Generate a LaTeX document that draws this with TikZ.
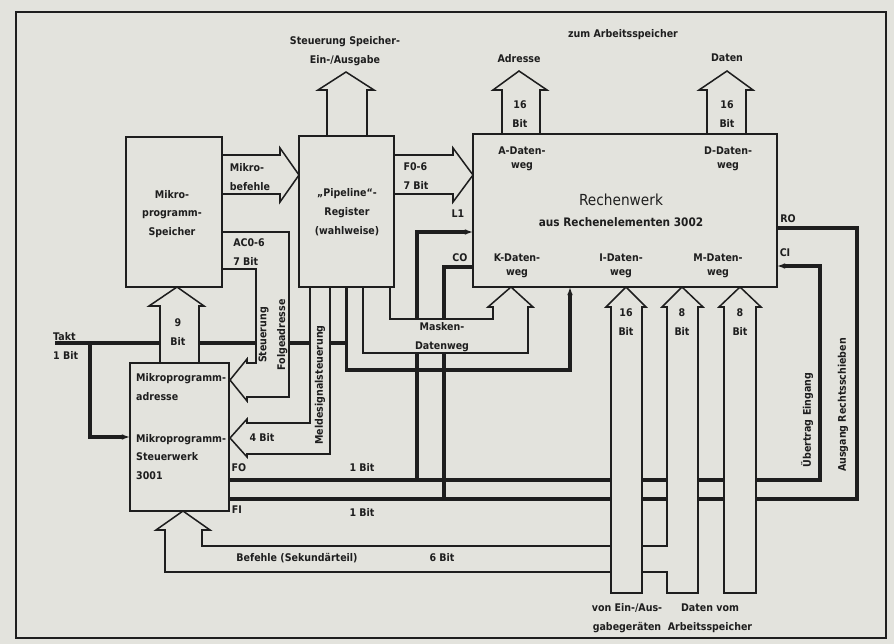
\documentclass[tikz,border=0pt]{standalone}
\usepackage{fontspec}
\setmainfont{DejaVu Sans Condensed}
\definecolor{paper}{HTML}{E3E3DD}
\definecolor{ink}{HTML}{1E1E1E}
\usetikzlibrary{arrows.meta}

\begin{document}
\begin{tikzpicture}[x=0.03cm, y=-0.03cm,
  blk/.style={draw=ink, line width=1.8pt, fill=paper, inner sep=0pt},
  bus/.style={draw=ink, fill=paper, line width=1.3pt, line join=miter},
  sig/.style={draw=ink, line width=2.6pt},
  tip/.style={-{Latex[length=7pt,width=5pt]}},
  lbl/.style={font=\fontsize{9}{16}\selectfont\bfseries, text=ink, align=center, inner sep=0pt},
  sml/.style={font=\fontsize{9}{12}\selectfont\bfseries, text=ink, align=center, inner sep=0pt},
]
\fill[paper] (0,0) rectangle (894,644);
\useasboundingbox (0,0) rectangle (894,644);
\draw[ink, line width=2pt] (16,12) rectangle (886,638);

\coordinate (fo) at (229,480);
\coordinate (fi) at (229,499);
\coordinate (ci) at (777,266);
\coordinate (ro) at (777,228);
\coordinate (li) at (473,232);
\coordinate (co) at (473,267);
\coordinate (clk) at (570,287);

\draw[sig] (55,343) -- (346.5,343);
\draw[sig, tip] (90,343) |- (130,437);
\draw[sig, tip] (346.5,287) |- (570,370) -- (clk);
\draw[sig, tip] (fo) -- (820,480) |- (ci);
\draw[sig] (fi) -- (857,499) |- (ro);
\draw[sig, tip] (417,480) |- (li);
\draw[sig] (co) -| (444,499);

\filldraw[bus] (363,287) -- (363,353) -- (528,353) -- (528,307) -- (533,307) -- (511,287)
  -- (488,307) -- (493,307) -- (493,319) -- (390,319) -- (390,287);
\filldraw[bus] (222,232) -- (289,232) -- (289,397) -- (247,397) -- (247,401) -- (230,380)
  -- (247,359) -- (247,363) -- (256,363) -- (256,269) -- (222,269);
\filldraw[bus] (310,287) -- (310,423) -- (247,423) -- (247,419) -- (230,438)
  -- (247,457) -- (247,454) -- (330,454) -- (330,287);
\filldraw[bus] (160,363) -- (160,306) -- (149,306) -- (177,287) -- (204,306) -- (199,306) -- (199,363);
\filldraw[bus] (667,593) -- (667,572) -- (165,572) -- (165,530) -- (156,530) -- (183,511)
  -- (210,530) -- (202,530) -- (202,546) -- (667,546) -- (667,307) -- (662,307) -- (682,287)
  -- (703,307) -- (698,307) -- (698,593) -- cycle;
\filldraw[bus] (611,593) -- (611,307) -- (606,307) -- (626,287) -- (646,307) -- (642,307) -- (642,593) -- cycle;
\filldraw[bus] (724,593) -- (724,307) -- (719,307) -- (740,287) -- (761,307) -- (756,307) -- (756,593) -- cycle;
\filldraw[bus] (327,136) -- (327,90) -- (318,90) -- (346,72) -- (374,90) -- (367,90) -- (367,136);
\filldraw[bus] (502,134) -- (502,90) -- (493,90) -- (519,71) -- (547,90) -- (540,90) -- (540,134);
\filldraw[bus] (707,134) -- (707,90) -- (699,90) -- (727,71) -- (753,90) -- (746,90) -- (746,134);
\filldraw[bus] (222,155) -- (280,155) -- (280,148) -- (299,175) -- (280,202) -- (280,194) -- (222,194);
\filldraw[bus] (394,155) -- (453,155) -- (453,148) -- (473,175) -- (453,202) -- (453,194) -- (394,194);

\node[blk, minimum width=2.88cm, minimum height=4.5cm] (spk) at (174,212) {};
\node[blk, minimum width=2.85cm, minimum height=4.53cm] (pip) at (346.5,211.5) {};
\node[blk, minimum width=9.12cm, minimum height=4.59cm] (rw) at (625,210.5) {};
\node[blk, minimum width=2.97cm, minimum height=4.44cm] (sw) at (179.5,437) {};

\node[lbl] (spkt) at (172,214) {Mikro-\\programm-\\Speicher};
\node[lbl] (pipt) at (347,212) {„Pipeline“-\\Register\\(wahlweise)};
\node[text=ink, font=\fontsize{13}{15}\selectfont] (rwt) at (621,200) {Rechenwerk};
\node[sml, font=\fontsize{10}{12}\selectfont\bfseries] (rwu) at (621,222) {aus Rechenelementen 3002};
\node[sml] (adw) at (522,159) {A-Daten-\\weg};
\node[sml] (ddw) at (728,159) {D-Daten-\\weg};
\node[sml] (kdw) at (517,266) {K-Daten-\\weg};
\node[sml] (idw) at (621,266) {I-Daten-\\weg};
\node[sml] (mdw) at (718,266) {M-Daten-\\weg};
\node[lbl, align=left, anchor=west] (swa) at (136,387) {Mikroprogramm-\\adresse};
\node[lbl, align=left, anchor=west] (sws) at (136,457) {Mikroprogramm-\\Steuerwerk\\3001};

\node[lbl] (sea) at (345,51) {Steuerung Speicher-\\Ein-/Ausgabe};
\node[lbl] (zas) at (623,35) {zum Arbeitsspeicher};
\node[lbl] (adr) at (519,59) {Adresse};
\node[lbl] (dat) at (727,58) {Daten};
\node[lbl] (ab) at (520,114) {16\\Bit};
\node[lbl] (db) at (727,114) {16\\Bit};
\node[lbl, align=left] (mbf) at (250,177) {Mikro-\\befehle};
\node[lbl, align=left] (fb) at (416,176) {F0-6\\7 Bit};
\node[lbl, align=left] (acb) at (249,252) {AC0-6\\7 Bit};
\node[lbl] (nb) at (178,332) {9\\Bit};
\node[lbl, align=left, anchor=west] (takt) at (53,346) {Takt\\1 Bit};
\node[lbl] (vb) at (262,437) {4 Bit};
\node[lbl] (fol) at (239,468) {FO};
\node[lbl] (fil) at (237,510) {FI};
\node[lbl] (fob) at (362,467) {1 Bit};
\node[lbl] (fib) at (362,512) {1 Bit};
\node[lbl] (bef) at (297,558) {Befehle (Sekundärteil)};
\node[lbl] (sb) at (442,558) {6 Bit};
\node[lbl] (mdl) at (442,337) {Masken-\\Datenweg};
\node[lbl] (lil) at (458,214) {L1};
\node[lbl] (col) at (460,258) {CO};
\node[lbl] (rol) at (788,219) {RO};
\node[lbl] (cil) at (785,253) {CI};
\node[lbl] (b1) at (626,322) {16\\Bit};
\node[lbl] (b2) at (682,322) {8\\Bit};
\node[lbl] (b3) at (740,322) {8\\Bit};
\node[lbl] (vea) at (627,618) {von Ein-/Aus-\\gabegeräten};
\node[lbl] (dva) at (710,618) {Daten vom\\Arbeitsspeicher};
\node[lbl, rotate=90] (sfa) at (273,335) {Steuerung\\Folgeadresse};
\node[lbl, rotate=90] (mss) at (320,385) {Meldesignalsteuerung};
\node[lbl, rotate=90] (ueb) at (807,420) {Übertrag Eingang};
\node[lbl, rotate=90] (ars) at (843,405) {Ausgang Rechtsschieben};
\end{tikzpicture}
\end{document}
